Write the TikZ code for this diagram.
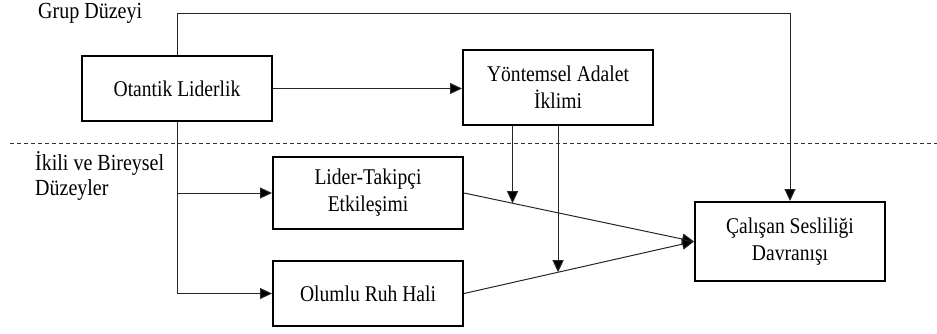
\documentclass[tikz,border=0pt]{standalone}
\usepackage{fontspec}
\setmainfont{Liberation Serif}
\newfontfamily\tnr[FakeStretch=0.87]{Liberation Serif}
\usetikzlibrary{arrows.meta,calc}
\begin{document}
\begin{tikzpicture}[x=1pt,y=-1pt,
  box/.style={draw=black,line width=2pt,rectangle,minimum width=190pt,align=center,inner sep=0pt,font=\tnr\fontsize{22.5}{27}\selectfont},
  lbl/.style={align=left,inner sep=0pt,anchor=north west,font=\tnr\fontsize{23}{25}\selectfont},
  conn/.style={draw=black!85,line width=1pt},
  arr/.style={conn,-{Triangle[length=12pt,width=11pt,fill=black]}}]
\useasboundingbox (0,0) rectangle (937,333);
\node[box,minimum height=65pt] (otantik) at (177,88.5) {Otantik Liderlik};
\node[box,minimum height=75pt] (yontem) at (558,87.5) {Yöntemsel Adalet\\İklimi};
\node[box,minimum height=72pt] (lider) at (368,193) {Lider-Takipçi\\Etkileşimi};
\node[box,minimum height=65pt] (olumlu) at (368,293.5) {Olumlu Ruh Hali};
\node[box,minimum height=79pt] (calisan) at (790,241.5) {Çalışan Sesliliği\\Davranışı};
\node[lbl] (grup) at (38,3) {Grup Düzeyi};
\node[lbl] (ikili) at (35,151) {İkili ve Bireysel\\Düzeyler};
\coordinate (top) at (790,13);
\coordinate (dl) at (10,143);
\coordinate (dr) at (937,143);
\draw[black!80,line width=1pt,dash pattern=on 4pt off 3pt] (dl) -- (dr);
\draw[arr] (otantik.north) |- (top) -- (calisan.north);
\draw[arr] (otantik.east) -- (yontem.west |- otantik.east);
\draw[arr] (otantik.south) |- (olumlu.west);
\draw[arr] (otantik.south |- lider.west) -- (lider.west);
\draw[arr] (lider.east) -- (calisan.west);
\draw[arr] (olumlu.east) -- (calisan.west);
\coordinate (m1) at ($(lider.east)!0.211!(calisan.west)$);
\coordinate (m2) at ($(olumlu.east)!0.409!(calisan.west)$);
\draw[arr] (yontem.south -| m1) -- (m1);
\draw[arr] (yontem.south -| m2) -- (m2);
\end{tikzpicture}
\end{document}
